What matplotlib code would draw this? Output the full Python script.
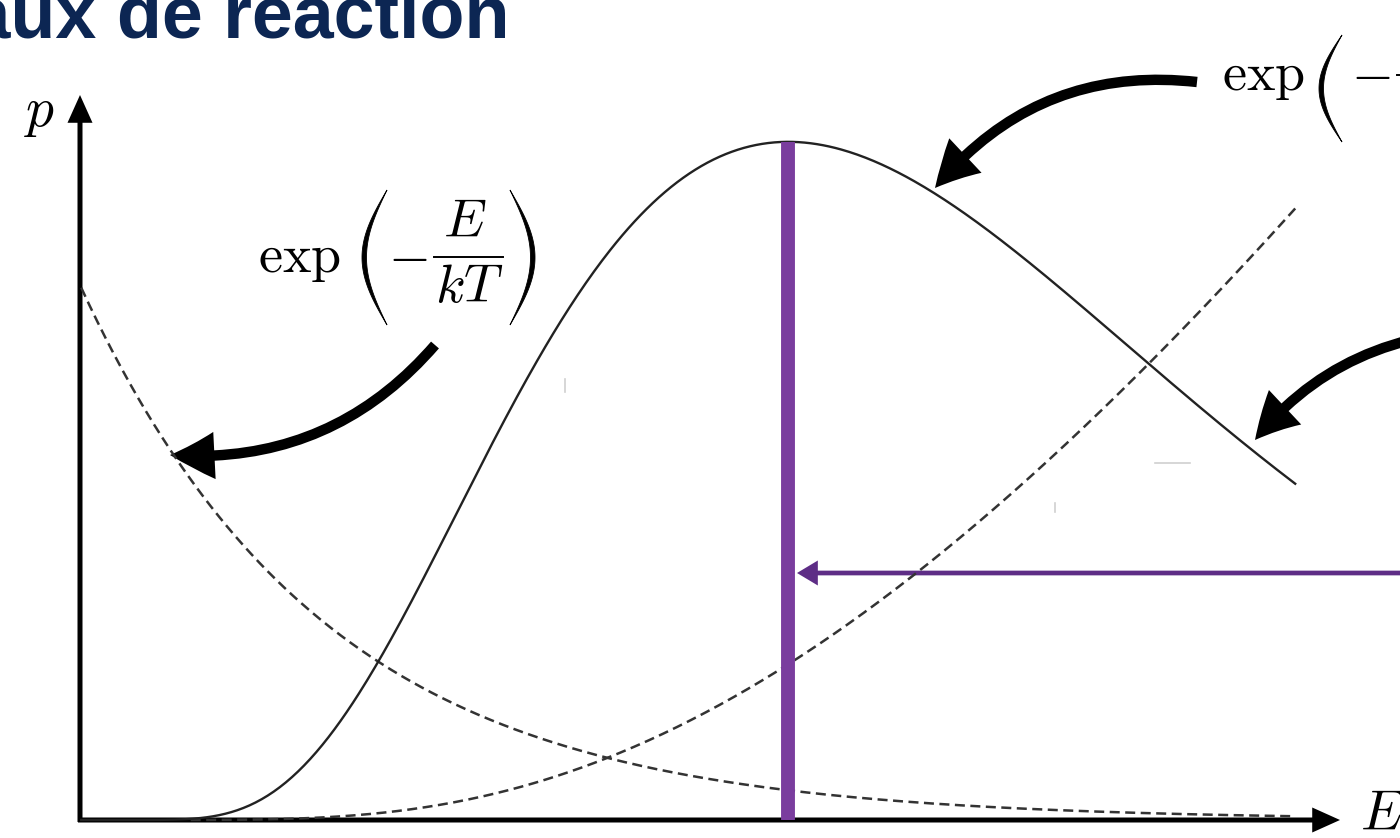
import numpy as np
import matplotlib.pyplot as plt
from matplotlib.patches import FancyArrowPatch

plt.rcParams['mathtext.fontset'] = 'cm'

# energy axis in units of kT, probabilities in arbitrary units
kT = 1.0
b_gamow = 9.83          # tunnelling constant, exp(-b / sqrt(E))
boltz_amp = 535.0
tunnel_amp = 50500.0
gamow_amp = 3.96e6
E_max = 4.96

title = "Taux de reaction"

E = np.linspace(0.005, E_max, 600)
boltz = boltz_amp * np.exp(-E / kT)
tunnel = tunnel_amp * np.exp(-b_gamow / np.sqrt(E))
gamow = gamow_amp * np.exp(-E / kT - b_gamow / np.sqrt(E))
E_peak = (b_gamow * kT / 2) ** (2 / 3)
p_peak = gamow_amp * np.exp(-E_peak / kT - b_gamow / np.sqrt(E_peak))

fig = plt.figure(figsize=(14, 8.38), dpi=100)
ax = fig.add_axes([0, 0, 1, 1])
ax.set_xlim(-80 / 245, 1320 / 245)
ax.set_ylim(-18, 820)
ax.axis('off')


def px(x, y):
    # image pixel position -> data coordinates
    return ((x - 80) / 245, 820 - y)


def arrow(tail, head, tail_w, head_l, head_w, color, rad=0.0):
    ax.add_patch(FancyArrowPatch(px(*tail), px(*head),
                                 connectionstyle=f'arc3,rad={rad}',
                                 arrowstyle=f'simple,head_length={head_l},head_width={head_w},tail_width={tail_w}',
                                 mutation_scale=1, lw=0, color=color,
                                 shrinkA=0, shrinkB=0))


def paren(x_tip, y_top, y_bot, bulge, thick, side):
    # big LaTeX-style delimiter: thin at the tips, thick in the middle
    t = np.linspace(0, 1, 80)
    s = np.sin(np.pi * t)
    y = y_top + (y_bot - y_top) * t
    outer = x_tip + side * bulge * s
    inner = x_tip + side * (bulge - thick) * s
    xs = np.concatenate([outer, inner[::-1]])
    ys = np.concatenate([y, y[::-1]])
    pts = np.array([px(a, b) for a, b in zip(xs, ys)])
    ax.fill(pts[:, 0], pts[:, 1], color='black', lw=0.6)


def math(x, y, s, size, **kw):
    ax.text(*px(x, y), s, fontsize=size, **kw)


ax.plot(E, boltz, color='#333333', lw=1.8, ls=(0, (4, 2.2)))
ax.plot(E[E > 0.45], tunnel[E > 0.45], color='#333333', lw=1.8, ls=(0, (4, 2.2)))
ax.plot(E, gamow, color='#222222', lw=1.7)

# axes with arrow heads
arrow((80, 822), (80, 95), 3.6, 20, 18, 'black')
arrow((78, 820), (1340, 820), 3.6, 20, 18, 'black')

# Gamow peak marker
ax.plot([E_peak, E_peak], [0, p_peak], color='#7a3d9e', lw=10, solid_capstyle='butt')
arrow((1410, 573), (797, 573), 3.4, 15, 18, '#5e2d86')

# curved pointers to the curves
arrow((435, 345), (170, 455), 7.5, 32, 34, 'black', rad=-0.25)
arrow((1197, 82), (935, 188), 7.5, 32, 34, 'black', rad=0.27)
arrow((1410, 340), (1255, 440), 7.5, 32, 34, 'black', rad=0.17)

# exp(-E/kT)
math(258, 272, r"$\exp$", 39, ha='left', va='baseline')
paren(387, 190, 325, 25, 4.5, -1)
math(408, 257, r"$-$", 39, ha='center', va='center')
math(465, 222, r"$E$", 39, ha='center', va='center')
math(469, 287, r"$kT$", 39, ha='center', va='center')
ax.plot(*zip(px(434, 257), px(503, 257)), color='black', lw=1.4)
paren(510, 190, 325, 25, 4.5, 1)

# exp(-b/sqrt(E)), running off the right edge
math(1222, 90, r"$\exp$", 39, ha='left', va='baseline')
paren(1342, 35, 142, 23, 4.5, -1)
math(1371, 75, r"$-$", 39, ha='center', va='center')
ax.plot(*zip(px(1397, 75), px(1405, 75)), color='black', lw=1.4)

math(40, 112, r"$p$", 40, ha='center', va='center')
math(1360, 815, r"$E$", 40, ha='left', va='center')

# faint marks left on the slide
for (x0, y0), (x1, y1) in [((565, 379), (565, 392)), ((1155, 463), (1190, 463)),
                           ((1055, 503), (1055, 512))]:
    ax.plot(*zip(px(x0, y0), px(x1, y1)), color='#d0d0d0', lw=1.2)

fig.text(-70 / 1400, 1 - 37 / 838, title, fontsize=53, fontweight='bold',
         color='#0c2653', family='Liberation Sans', ha='left', va='baseline')

fig.savefig('out.png', dpi=100, facecolor='white')
